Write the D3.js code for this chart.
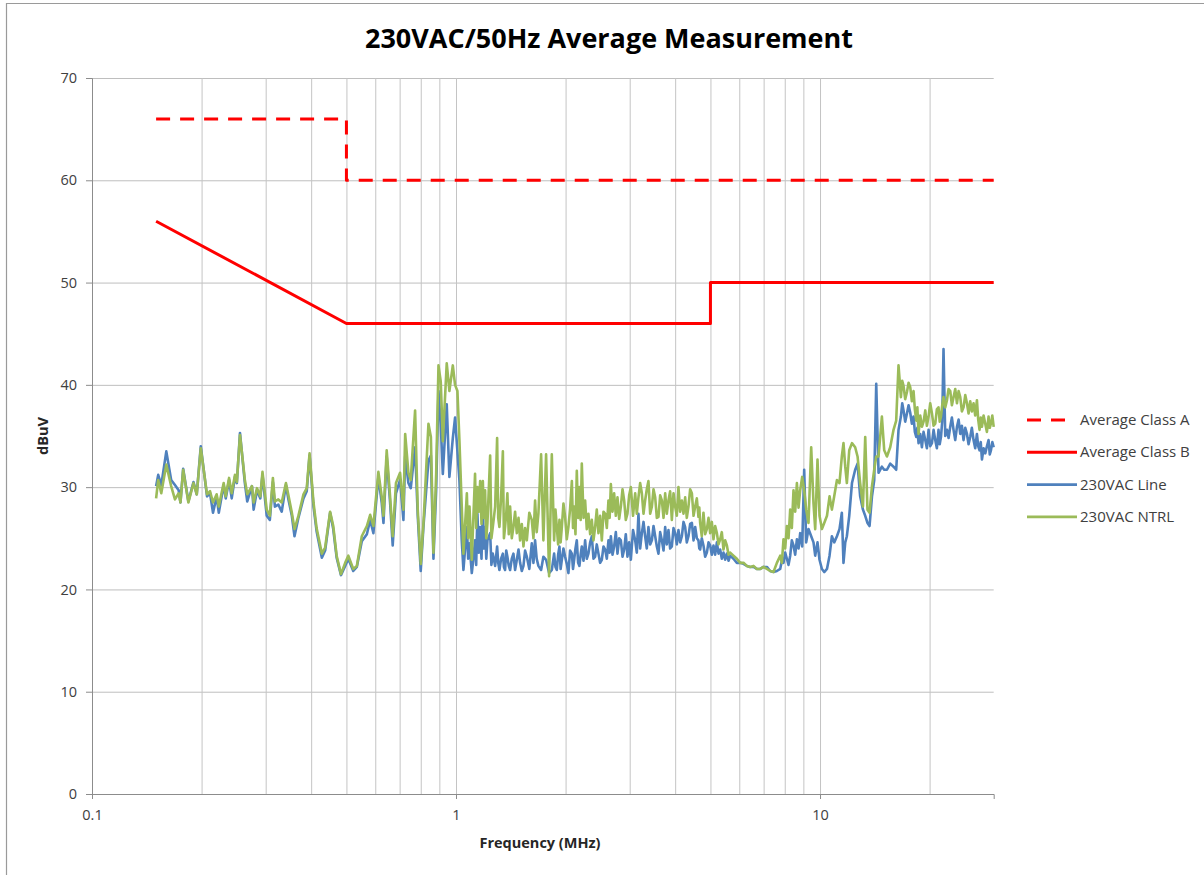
<!DOCTYPE html>
<html>
<head>
<meta charset="utf-8">
<script src="https://cdn.jsdelivr.net/npm/d3@7"></script>
<style>
  html, body { margin: 0; padding: 0; background: #ffffff; }
  svg { display: block; }
  text { font-family: "Open Sans", "Liberation Sans", sans-serif; }
</style>
</head>
<body>
<svg id="chart" width="1204" height="875"></svg>
<script>
// ---- Limit lines (EN 55022 average limits) ----
const classAFreq = [0.15, 0.5, 0.5, 30];
const classAVal  = [66, 66, 60, 60];
const classBFreq = [0.15, 0.5, 5, 5, 30];
const classBVal  = [56, 46, 46, 50, 50];

// ---- Measured sweep (MHz) ----
const freqMHz = [
  // 0.15 - 0.87 MHz
  0.150, 0.152, 0.155, 0.160, 0.165, 0.169, 0.173, 0.175, 0.178, 0.184,
  0.190, 0.194, 0.199, 0.207, 0.211, 0.215, 0.220, 0.223, 0.230, 0.233,
  0.238, 0.242, 0.247, 0.250, 0.255, 0.263, 0.267, 0.275, 0.278, 0.284,
  0.290, 0.294, 0.302, 0.308, 0.314, 0.318, 0.325, 0.332, 0.341, 0.346,
  0.354, 0.360, 0.369, 0.381, 0.389, 0.396, 0.406, 0.414, 0.428, 0.437,
  0.451, 0.460, 0.470, 0.483, 0.496, 0.506, 0.522, 0.534, 0.551, 0.569,
  0.581, 0.593, 0.612, 0.625, 0.632, 0.645, 0.659, 0.670, 0.684, 0.702,
  0.717, 0.725, 0.740, 0.751, 0.772, 0.785, 0.800, 0.814, 0.840, 0.853,
  0.867,
  // 0.88 - 4.66 MHz
  0.882, 0.895, 0.908, 0.920, 0.943, 0.959, 0.980, 0.994, 1.009, 1.022,
  1.037, 1.048, 1.071, 1.080, 1.089, 1.105, 1.116, 1.128, 1.136, 1.145,
  1.155, 1.165, 1.175, 1.185, 1.193, 1.202, 1.211, 1.220, 1.241, 1.251,
  1.262, 1.281, 1.297, 1.306, 1.316, 1.330, 1.345, 1.354, 1.364, 1.374,
  1.384, 1.396, 1.408, 1.423, 1.438, 1.453, 1.469, 1.485, 1.500, 1.516,
  1.532, 1.548, 1.565, 1.590, 1.615, 1.632, 1.649, 1.666, 1.684, 1.713,
  1.738, 1.768, 1.802, 1.833, 1.860, 1.876, 1.892, 1.908, 1.924, 1.938,
  1.953, 1.973, 1.994, 2.015, 2.036, 2.058, 2.081, 2.096, 2.111, 2.129,
  2.147, 2.165, 2.183, 2.200, 2.216, 2.240, 2.263, 2.287, 2.311, 2.336,
  2.361, 2.386, 2.411, 2.436, 2.462, 2.488, 2.515, 2.542, 2.569, 2.596,
  2.623, 2.643, 2.663, 2.691, 2.719, 2.748, 2.777, 2.807, 2.837, 2.867,
  2.897, 2.927, 2.958, 2.990, 3.022, 3.064, 3.106, 3.138, 3.171, 3.205,
  3.240, 3.274, 3.308, 3.343, 3.378, 3.415, 3.452, 3.488, 3.525, 3.562,
  3.599, 3.638, 3.677, 3.716, 3.755, 3.794, 3.834, 3.875, 3.917, 3.958,
  4.000, 4.042, 4.084, 4.128, 4.173, 4.217, 4.261, 4.305, 4.351, 4.398,
  4.446, 4.493, 4.540, 4.587, 4.635, 4.660,
  // 4.69 - 8.93 MHz
  4.685, 4.734, 4.784, 4.836, 4.888, 4.939, 4.991, 5.044, 5.097, 5.152,
  5.208, 5.262, 5.317, 5.373, 5.430, 5.489, 5.548, 5.606, 5.665, 5.784,
  5.910, 6.035, 6.162, 6.296, 6.429, 6.565, 6.707, 6.849, 6.994, 7.145,
  7.296, 7.450, 7.612, 7.773, 7.855, 7.937, 8.023, 8.109, 8.194, 8.280,
  8.367, 8.455, 8.547, 8.639, 8.730, 8.821, 8.934,
  // 9.05 - 30 MHz
  9.047, 9.162, 9.297, 9.457, 9.596, 9.700, 9.842, 9.968, 10.12, 10.27,
  10.45, 10.62, 10.78, 10.94, 11.13, 11.31, 11.48, 11.60, 11.73, 11.85,
  12.03, 12.24, 12.49, 12.68, 12.89, 13.12, 13.31, 13.50, 13.68, 13.89,
  14.09, 14.27, 14.48, 14.79, 15.01, 15.27, 15.59, 15.92, 16.19, 16.43,
  16.68, 16.82, 16.96, 17.14, 17.33, 17.51, 17.69, 17.88, 18.07, 18.22,
  18.38, 18.51, 18.65, 18.85, 19.05, 19.25, 19.46, 19.66, 19.87, 20.08,
  20.30, 20.51, 20.73, 20.94, 21.16, 21.32, 21.49, 21.66, 21.84, 22.08,
  22.32, 22.55, 22.79, 23.03, 23.27, 23.52, 23.78, 24.03, 24.28, 24.53,
  24.79, 25.06, 25.33, 25.59, 25.86, 26.13, 26.41, 26.69, 26.98, 27.20,
  27.43, 27.64, 27.85, 28.14, 28.44, 28.74, 29.04, 29.26, 29.48, 29.74,
  30.0
];

// 230VAC Line conductor (dBuV)
const lineDbuV = [
  30.1, 31.2, 30.2, 33.5, 30.7, 30.2, 29.7, 28.5, 31.8, 28.6,
  30.5, 29.3, 34.0, 29.1, 29.4, 27.5, 29.1, 27.5, 30.2, 28.9,
  30.7, 28.9, 31.0, 30.4, 35.3, 30.4, 28.6, 30.1, 27.8, 29.7,
  28.9, 31.2, 27.2, 26.8, 30.5, 28.1, 28.3, 27.6, 30.2, 28.9,
  27.2, 25.2, 27.0, 28.9, 29.6, 33.1, 28.1, 25.7, 23.1, 23.8,
  27.5, 25.9, 23.1, 21.4, 22.3, 23.0, 21.8, 22.2, 24.7, 25.4,
  26.8, 25.5, 31.0, 28.5, 26.5, 33.0, 28.5, 24.3, 29.4, 30.7,
  26.8, 33.0, 30.4, 29.9, 33.9, 27.2, 21.8, 26.2, 32.6, 33.1,
  23.0,

  29.7, 39.4, 36.1, 31.3, 38.1, 31.0, 34.8, 36.8, 33.5, 30.6,
  24.8, 21.9, 26.1, 23.0, 24.5, 21.6, 23.0, 24.8, 22.4, 27.4,
  23.6, 26.1, 23.0, 28.1, 24.0, 26.1, 23.0, 24.8, 25.5, 22.4,
  23.5, 22.3, 24.2, 22.6, 21.9, 23.0, 23.5, 22.2, 21.9, 23.8,
  23.2, 22.3, 21.9, 23.0, 23.5, 21.9, 22.9, 23.9, 22.6, 21.8,
  22.3, 23.8, 23.2, 22.0, 24.5, 22.6, 24.8, 23.0, 22.3, 21.9,
  23.2, 22.9, 21.6, 21.9, 23.5, 22.2, 21.9, 23.4, 24.2, 22.0,
  22.9, 24.0, 23.2, 22.5, 21.6, 23.8, 23.5, 22.0, 22.9, 24.0,
  24.8, 22.6, 22.3, 23.4, 24.2, 22.8, 24.8, 23.0, 23.5, 24.6,
  25.2, 23.0, 23.2, 24.4, 23.5, 22.6, 22.9, 24.2, 23.9, 23.0,
  24.8, 23.6, 25.2, 23.4, 24.2, 25.6, 23.5, 25.0, 24.8, 23.2,
  23.9, 25.4, 23.2, 24.6, 22.9, 25.8, 24.8, 23.6, 27.4, 24.0,
  25.5, 26.6, 25.2, 24.0, 26.1, 24.4, 24.8, 26.2, 25.2, 24.2,
  23.5, 25.6, 24.8, 23.8, 26.1, 24.4, 25.8, 24.0, 24.2, 26.0,
  25.5, 24.4, 25.8, 24.6, 25.2, 26.6, 26.1, 24.6, 25.2, 26.4,
  26.5, 24.8, 26.1, 25.0, 24.8, 24.0,

  23.9, 25.0, 24.3, 23.2, 23.6, 24.6, 24.3, 23.4, 24.3, 23.4,
  24.6, 23.5, 23.9, 23.0, 23.6, 22.9, 23.5, 22.8, 23.3, 23.0,
  22.6, 22.6, 22.5, 22.3, 22.2, 22.2, 22.0, 22.0, 22.2, 22.2,
  21.8, 21.7, 21.8, 22.0, 22.8, 22.6, 23.6, 23.0, 22.4, 23.3,
  24.8, 24.3, 23.4, 24.9, 24.0, 25.5, 24.2,

  31.7, 24.6, 25.9, 25.2, 24.6, 23.3, 24.6, 22.9, 22.0, 21.7,
  22.0, 23.3, 25.2, 24.6, 25.2, 25.9, 27.5, 22.6, 24.6, 25.2,
  27.2, 30.4, 31.7, 32.3, 29.1, 27.8, 27.2, 26.5, 26.2, 29.1,
  30.7, 40.1, 31.4, 32.0, 31.7, 31.7, 32.3, 32.0, 31.7, 35.6,
  36.9, 38.2, 37.5, 36.4, 37.2, 38.0, 37.3, 36.2, 36.9, 35.4,
  34.9, 35.8, 34.3, 35.2, 33.9, 35.4, 34.6, 33.8, 35.6, 34.0,
  34.3, 35.6, 34.6, 33.8, 35.6, 34.2, 34.9, 36.4, 43.5, 35.0,
  35.6, 34.8, 35.9, 36.8, 35.6, 34.6, 35.9, 36.6, 35.2, 36.0,
  34.6, 35.8, 35.2, 34.2, 34.9, 35.8, 34.6, 33.8, 35.2, 34.0,
  33.6, 34.4, 32.7, 33.8, 33.3, 34.0, 34.6, 33.2, 33.6, 34.4,
  33.9
];

// 230VAC Neutral conductor (dBuV)
const ntrlDbuV = [
  28.9, 30.7, 29.4, 32.2, 30.1, 28.8, 29.4, 28.5, 31.7, 28.5,
  30.4, 29.3, 33.8, 29.3, 29.6, 28.5, 29.3, 28.1, 30.4, 29.1,
  30.9, 29.4, 31.2, 30.5, 35.1, 30.7, 29.3, 30.1, 28.5, 29.9,
  29.1, 31.5, 27.8, 27.2, 30.9, 28.6, 28.8, 28.5, 30.4, 29.3,
  27.5, 25.9, 27.2, 29.3, 29.9, 33.3, 28.5, 26.0, 23.5, 24.1,
  27.6, 26.2, 23.3, 21.5, 22.6, 23.3, 22.0, 22.3, 25.2, 26.2,
  27.3, 26.2, 31.5, 29.1, 27.2, 33.6, 29.1, 25.2, 30.4, 31.4,
  27.8, 35.2, 31.4, 30.7, 37.5, 27.8, 22.5, 26.5, 36.2, 34.9,
  23.6,

  31.3, 41.9, 40.3, 34.5, 42.1, 39.4, 41.9, 40.0, 39.4, 34.5,
  28.1, 23.5, 29.4, 25.0, 28.1, 22.9, 27.0, 31.3, 26.0, 30.0,
  27.6, 30.6, 26.4, 30.6, 27.0, 29.7, 25.0, 26.5, 33.1, 25.0,
  26.1, 28.1, 34.8, 27.0, 26.1, 29.0, 33.5, 25.0, 26.1, 27.4,
  29.4, 25.4, 28.1, 25.0, 26.1, 27.6, 25.5, 27.0, 24.8, 26.4,
  24.2, 26.0, 24.8, 27.5, 26.8, 25.0, 28.7, 25.6, 27.4, 33.2,
  24.8, 33.2, 21.3, 33.2, 24.8, 27.8, 26.1, 24.4, 26.8, 24.6,
  26.1, 28.4, 27.1, 24.9, 26.1, 27.9, 30.6, 26.0, 28.1, 25.4,
  31.6, 27.0, 30.0, 26.8, 32.3, 27.0, 28.7, 25.9, 27.4, 25.4,
  26.8, 24.8, 26.1, 27.8, 25.5, 27.2, 24.8, 27.6, 27.4, 26.0,
  28.7, 27.0, 30.3, 27.6, 29.4, 27.2, 29.0, 26.9, 28.1, 29.8,
  28.7, 26.8, 27.4, 29.2, 30.0, 27.2, 29.4, 27.4, 29.0, 30.4,
  29.4, 27.4, 28.7, 29.8, 30.6, 27.4, 28.1, 29.8, 29.0, 27.0,
  27.1, 29.2, 28.7, 27.0, 29.4, 27.4, 28.7, 29.6, 26.8, 29.4,
  28.1, 27.2, 30.0, 27.6, 28.7, 27.4, 29.0, 27.0, 28.1, 29.8,
  29.4, 27.2, 28.1, 28.9, 27.1, 28.0,

  26.5, 25.2, 27.5, 25.4, 25.9, 27.0, 25.5, 26.6, 24.9, 26.2,
  25.5, 24.4, 24.9, 25.6, 23.9, 24.8, 24.3, 23.4, 23.6, 23.3,
  23.0, 22.6, 22.6, 22.3, 22.2, 22.3, 22.0, 22.0, 22.2, 22.0,
  21.8, 21.7, 22.6, 23.3, 22.6, 24.9, 24.0, 26.2, 25.0, 27.8,
  26.0, 29.7, 27.6, 30.4, 28.0, 29.7, 31.0,

  29.7, 27.8, 26.5, 33.9, 28.4, 25.9, 32.7, 27.2, 25.9, 26.5,
  27.2, 29.1, 27.8, 29.1, 30.7, 30.4, 33.0, 34.3, 32.0, 30.4,
  33.6, 34.3, 33.9, 33.0, 30.4, 28.1, 34.9, 27.8, 27.5, 30.1,
  31.7, 33.0, 33.0, 36.9, 33.6, 33.0, 33.9, 35.6, 36.5, 41.9,
  38.8, 40.4, 39.9, 38.6, 39.3, 40.2, 39.8, 38.4, 39.4, 37.6,
  36.5, 37.8, 35.2, 37.0, 35.9, 36.4, 37.5, 36.0, 36.9, 38.2,
  37.2, 36.0, 36.2, 37.6, 37.8, 36.4, 36.9, 38.0, 38.8, 37.8,
  38.5, 39.6, 39.4, 38.0, 38.8, 39.6, 38.2, 39.4, 38.8, 37.4,
  37.8, 39.0, 38.2, 37.2, 38.4, 37.4, 38.2, 37.0, 38.5, 36.6,
  35.6, 36.8, 35.9, 37.0, 36.2, 35.4, 36.9, 35.8, 36.2, 37.0,
  35.9
];

// ---- Axis ticks ----
const yTicks = [0, 10, 20, 30, 40, 50, 60, 70];
const xGridFreqs = [0.2, 0.3, 0.4, 0.5, 0.6, 0.7, 0.8, 0.9, 1,
                    2, 3, 4, 5, 6, 7, 8, 9, 10, 20];
const xLabelFreqs = [0.1, 1, 10];
const xLabelText = ["0.1", "1", "10"];

const seriesInfo = [
  { name: "Average Class A", color: "#ff0000", width: 3, dash: "14,10" },
  { name: "Average Class B", color: "#ff0000", width: 3, dash: null },
  { name: "230VAC Line",     color: "#4f81bd", width: 2.6, dash: null },
  { name: "230VAC NTRL",     color: "#9bbb59", width: 2.6, dash: null }
];

// ---- Layout ----
const svg = d3.select("#chart");
const plotLeft = 92, plotRight = 993.7, plotTop = 78, plotBottom = 794;

const x = d3.scaleLog().domain([0.1, 30]).range([plotLeft, plotRight]);
const y = d3.scaleLinear().domain([0, 70]).range([plotBottom, plotTop]);

// outer chart frame
svg.append("line").attr("x1", 6.5).attr("x2", 6.5).attr("y1", 3).attr("y2", 875)
  .attr("stroke", "#9a9a9a").attr("stroke-width", 1.2);
svg.append("line").attr("x1", 6).attr("x2", 1204).attr("y1", 3.5).attr("y2", 3.5)
  .attr("stroke", "#9a9a9a").attr("stroke-width", 1.2);

// horizontal gridlines
svg.append("g")
  .attr("transform", `translate(${plotLeft},0)`)
  .call(d3.axisLeft(y).tickValues(yTicks.slice(1)).tickSize(-(plotRight - plotLeft)).tickFormat(""))
  .call(g => g.select(".domain").remove())
  .call(g => g.selectAll("line").attr("stroke", "#bebebe").attr("stroke-width", 1));

// vertical gridlines
svg.append("g")
  .attr("transform", `translate(0,${plotBottom})`)
  .call(d3.axisBottom(x).tickValues(xGridFreqs).tickSize(-(plotBottom - plotTop)).tickFormat(""))
  .call(g => g.select(".domain").remove())
  .call(g => g.selectAll("line").attr("stroke", "#c4c4c4").attr("stroke-width", 1));

// y axis
const yAxis = svg.append("g")
  .attr("transform", `translate(${plotLeft},0)`)
  .call(d3.axisLeft(y).tickValues(yTicks).tickSize(6).tickPadding(9).tickFormat(d3.format("d")));
yAxis.select(".domain").attr("stroke", "#8c8c8c");
yAxis.selectAll("line").attr("stroke", "#8c8c8c");
yAxis.selectAll("text").attr("fill", "#404040").style("font-size", "14.5px")
  .style("font-family", "'Open Sans', sans-serif");

// x axis
const xAxis = svg.append("g")
  .attr("transform", `translate(0,${plotBottom})`)
  .call(d3.axisBottom(x).tickValues(xLabelFreqs).tickSize(5).tickPadding(11)
    .tickFormat((d, i) => xLabelText[i]));
xAxis.select(".domain").attr("stroke", "#8c8c8c");
xAxis.selectAll("line").attr("stroke", "#8c8c8c");
xAxis.selectAll("text").attr("fill", "#404040").style("font-size", "14.5px")
  .style("font-family", "'Open Sans', sans-serif");

// ---- Series ----
const lineGen = d3.line().x(d => x(d[0])).y(d => y(d[1]));
const plot = svg.append("g");

const classA = classAFreq.map((f, i) => [f, classAVal[i]]);
const classB = classBFreq.map((f, i) => [f, classBVal[i]]);
const lineSeries = freqMHz.map((f, i) => [f, lineDbuV[i]]);
const ntrlSeries = freqMHz.map((f, i) => [f, ntrlDbuV[i]]);
const allData = [classA, classB, lineSeries, ntrlSeries];

allData.forEach((data, i) => {
  const s = seriesInfo[i];
  plot.append("path")
    .datum(data)
    .attr("d", lineGen)
    .attr("fill", "none")
    .attr("stroke", s.color)
    .attr("stroke-width", s.width)
    .attr("stroke-linejoin", "round")
    .attr("stroke-dasharray", s.dash);
});

// ---- Titles ----
svg.append("text")
  .attr("x", 609).attr("y", 48)
  .attr("text-anchor", "middle")
  .attr("textLength", 488).attr("lengthAdjust", "spacingAndGlyphs")
  .style("font-size", "27px").style("font-weight", "bold").attr("fill", "#000")
  .text("230VAC/50Hz Average Measurement");

svg.append("text")
  .attr("x", 540).attr("y", 848)
  .attr("text-anchor", "middle")
  .style("font-size", "14.5px").style("font-weight", "bold").attr("fill", "#262626")
  .text("Frequency (MHz)");

svg.append("text")
  .attr("transform", "translate(48,436) rotate(-90)")
  .attr("text-anchor", "middle")
  .style("font-size", "14.5px").style("font-weight", "bold").attr("fill", "#262626")
  .text("dBuV");

// ---- Legend ----
const legend = svg.append("g");
seriesInfo.forEach((s, i) => {
  const ly = 420 + i * 32.3;
  legend.append("line")
    .attr("x1", 1027).attr("x2", s.dash ? 1066 : 1077)
    .attr("y1", ly).attr("y2", ly)
    .attr("stroke", s.color).attr("stroke-width", s.width)
    .attr("stroke-dasharray", s.dash);
  legend.append("text")
    .attr("x", 1080).attr("y", ly + 5)
    .style("font-size", "15px").attr("fill", "#404040")
    .text(s.name);
});
</script>
</body>
</html>
